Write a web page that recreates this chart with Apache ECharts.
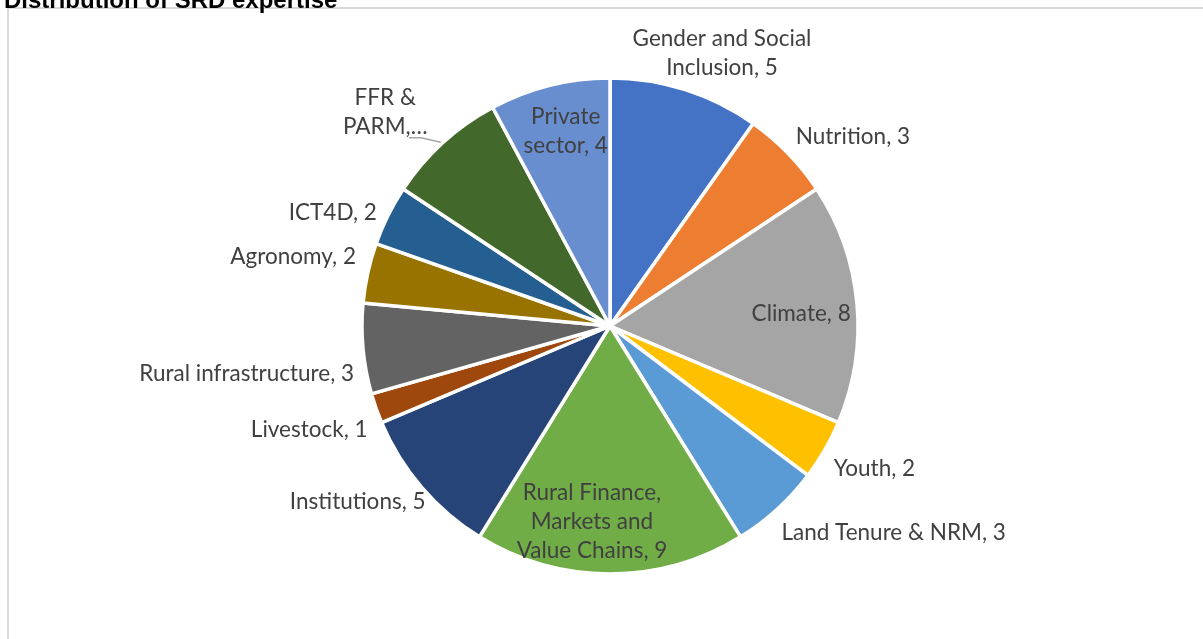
<!DOCTYPE html>
<html>
<head>
<meta charset="utf-8">
<script src="https://cdn.jsdelivr.net/npm/echarts@6/dist/echarts.min.js"></script>
<style>
html,body{margin:0;padding:0;background:#fff;}
#chart{width:1203px;height:639px;}
</style>
</head>
<body>
<div id="chart"></div>
<script>
const titleText = 'Distribution of SRD expertise';
const categories = ['Gender and Social Inclusion','Nutrition','Climate','Youth','Land Tenure & NRM','Rural Finance, Markets and Value Chains','Institutions','Livestock','Rural infrastructure','Agronomy','ICT4D','FFR & PARM','Private sector'];
const values = [5,3,8,2,3,9,5,1,3,2,2,4,4];
const colors = ['#4472C4','#ED7D31','#A5A5A5','#FFC000','#5B9BD5','#70AD47','#264478','#9E480E','#636363','#997300','#255E91','#43682B','#698ED0'];
// label text as displayed (line breaks as in the reference)
const labelTexts = ['Gender and Social\nInclusion, 5','Nutrition, 3','Climate, 8','Youth, 2','Land Tenure & NRM, 3','Rural Finance,\nMarkets and\nValue Chains, 9','Institutions, 5','Livestock, 1','Rural infrastructure, 3','Agronomy, 2','ICT4D, 2','FFR &\nPARM,…','Private\nsector, 4'];
const insideLabels = ['Climate','Rural Finance, Markets and Value Chains','Private sector'];
// label nudges relative to the library's default label box (layout only), [dx, dy] per category
const labelNudges = [[-60,-29],[-3,-11],[-6,6],[-3,15],[-6,18],[-18,-2],[15,9],[4,19],[4,24],[1,-14],[1,1],[-5,-25],[4,-3]];
const leaderName = 'FFR & PARM';

const FONT = 'Lato';
const FS = 22.5;
const chart = echarts.init(document.getElementById('chart'));

const mainData = categories.map((c,i)=>({
  name:c, value:values[i],
  itemStyle:{color:colors[i]},
  label:{show: insideLabels.indexOf(c)<0, formatter: labelTexts[i]},
  labelLine:{show: c===leaderName}
}));
const insideData = categories.map((c,i)=>({
  name:c, value:values[i],
  label:{show: insideLabels.indexOf(c)>=0, formatter: labelTexts[i]}
}));
const nudge = p => {
  const r = p.labelRect, n = labelNudges[p.dataIndex];
  const out = {x: r.x + r.width/2 + n[0], y: r.y + r.height/2 + n[1], align:'center', verticalAlign:'middle'};
  if (categories[p.dataIndex] === leaderName && p.labelLinePoints && p.labelLinePoints.length) {
    const p0 = p.labelLinePoints[0];
    out.labelLinePoints = [[p0[0], p0[1]], [p0[0]-22, p0[1]-5], [p0[0]-34, p0[1]-5]];
  }
  return out;
};

chart.setOption({
  animation:false,
  title:{text:titleText,left:-1,top:-16,textStyle:{fontFamily:'Liberation Sans',fontWeight:'bold',fontSize:24,color:'#000'}},
  graphic:[{type:'rect',shape:{x:8,y:8,width:1400,height:900},style:{fill:'none',stroke:'#d9d9d9',lineWidth:2},silent:true,z:-1}],
  series:[
    {
      type:'pie', center:[610,326], radius:248, startAngle:90, clockwise:true,
      itemStyle:{borderColor:'#fff',borderWidth:3.5},
      label:{position:'outside',fontFamily:FONT,fontSize:FS,color:'#404040',lineHeight:29},
      labelLine:{length:8,length2:0,lineStyle:{color:'#a6a6a6',width:1.5}},
      labelLayout:nudge,
      avoidLabelOverlap:false,
      data:mainData
    },
    {
      type:'pie', center:[610,326], radius:390, startAngle:90, clockwise:true, silent:true,
      itemStyle:{color:'transparent',borderWidth:0},
      label:{position:'inside',fontFamily:FONT,fontSize:FS,color:'#404040',lineHeight:29},
      labelLine:{show:false},
      labelLayout:nudge,
      data:insideData
    }
  ]
});
</script>
</body>
</html>
